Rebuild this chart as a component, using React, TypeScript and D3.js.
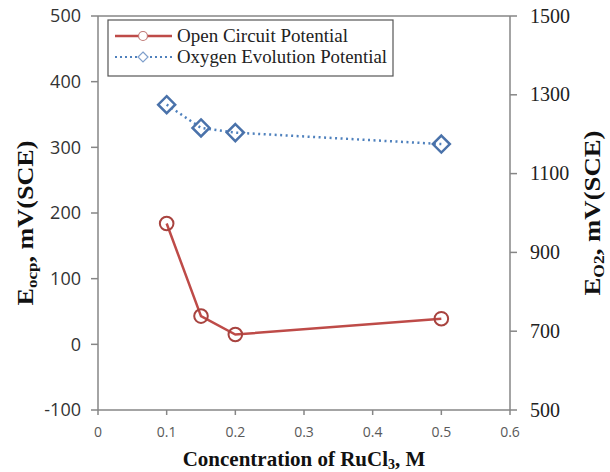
import React from "react";
import * as d3 from "d3";

const concentrations = [0.1, 0.15, 0.2, 0.5];
const ocpValues = [184, 43, 15, 39];
const oepValues = [1275, 1216, 1204, 1175];
const xTicks = [0, 0.1, 0.2, 0.3, 0.4, 0.5, 0.6];
const leftTicks = [-100, 0, 100, 200, 300, 400, 500];
const rightTicks = [500, 700, 900, 1100, 1300, 1500];
const legendLabels = ["Open Circuit Potential", "Oxygen Evolution Potential"];

const W = 610, H = 472;
const L = 98, R = 510, T = 16, B = 410;
const AX = "#868686";
const RED = "#BE4B48";
const BLUE = "#4F81BD";
const SERIF = "'Liberation Serif', 'DejaVu Serif', serif";
const SANS = "'Open Sans', sans-serif";

export default function App() {
  const x = d3.scaleLinear().domain([0, 0.6]).range([L, R]);
  const yL = d3.scaleLinear().domain([-100, 500]).range([B, T]);
  const yR = d3.scaleLinear().domain([500, 1500]).range([B, T]);

  const ocpPts: [number, number][] = concentrations.map((c, i) => [x(c), yL(ocpValues[i])]);
  const oepPts: [number, number][] = concentrations.map((c, i) => [x(c), yR(oepValues[i])]);
  const line = d3.line();

  const diamond = (cx: number, cy: number, s: number) =>
    `M${cx},${cy - s}L${cx + s},${cy}L${cx},${cy + s}L${cx - s},${cy}Z`;

  const serif = { fontFamily: SERIF };
  const sans = { fontFamily: SANS };

  return (
    <svg width={W} height={H} style={{ position: "absolute", left: 0, top: 0, background: "#fff" }}>
      {/* plot frame */}
      <line x1={L} x2={R} y1={T} y2={T} stroke={AX} strokeWidth={1.5} />
      <line x1={L} x2={L} y1={T} y2={B} stroke={AX} strokeWidth={1.5} />
      <line x1={R} x2={R} y1={T} y2={B} stroke={AX} strokeWidth={1.5} />
      <line x1={L} x2={R} y1={B} y2={B} stroke={AX} strokeWidth={1.5} />

      {/* left axis */}
      {leftTicks.map((t) => (
        <g key={"l" + t}>
          <line x1={L - 7} x2={L} y1={yL(t)} y2={yL(t)} stroke={AX} strokeWidth={1.5} />
          <text x={81} y={yL(t)} dy="0.36em" textAnchor="end" style={sans} fontSize={18} fill="#333">
            {t}
          </text>
        </g>
      ))}
      {/* right axis */}
      {rightTicks.map((t) => (
        <g key={"r" + t}>
          <line x1={R} x2={R + 7} y1={yR(t)} y2={yR(t)} stroke={AX} strokeWidth={1.5} />
          <text x={530} y={yR(t)} dy="0.33em" textAnchor="start" style={serif} fontSize={20} fill="#222">
            {t}
          </text>
        </g>
      ))}
      {/* x axis */}
      {xTicks.map((t) => (
        <g key={"x" + t}>
          <line x1={x(t)} x2={x(t)} y1={B} y2={B + 5} stroke={AX} strokeWidth={1.5} />
          <text x={x(t)} y={432} dy="0.36em" textAnchor="middle" style={sans} fontSize={14} fill="#595959">
            {t}
          </text>
        </g>
      ))}

      {/* axis titles */}
      <text
        transform={`translate(33,${(T + B) / 2 + 10}) rotate(-90)`}
        textAnchor="middle"
        style={serif}
        fontWeight="bold"
        fontSize={23}
        fill="#111"
        textLength={165}
        lengthAdjust="spacingAndGlyphs"
      >
        E<tspan fontSize={15} dy="4">ocp</tspan>
        <tspan dy="-4">, mV(SCE)</tspan>
      </text>
      <text
        transform={`translate(600,${(T + B) / 2}) rotate(-90)`}
        textAnchor="middle"
        style={serif}
        fontWeight="bold"
        fontSize={23}
        fill="#111"
        textLength={165}
        lengthAdjust="spacingAndGlyphs"
      >
        E<tspan fontSize={15} dy="4">O2</tspan>
        <tspan dy="-4">, mV(SCE)</tspan>
      </text>
      <text x={(L + R) / 2} y={466} textAnchor="middle" style={serif} fontWeight="bold" fontSize={21} fill="#111">
        Concentration of RuCl<tspan fontSize={14} dy="3">3</tspan>
        <tspan dy="-3">, M</tspan>
      </text>

      {/* series: OEP */}
      <path d={line(oepPts) || ""} fill="none" stroke={BLUE} strokeWidth={2.5} strokeDasharray="2 3.5" />
      {oepPts.map(([px, py], i) => (
        <path key={"d" + i} d={diamond(px, py, 8.5)} fill="none" stroke="#4A72AA" strokeWidth={2.5} />
      ))}
      {/* series: OCP */}
      <path d={line(ocpPts) || ""} fill="none" stroke={RED} strokeWidth={2.5} />
      {ocpPts.map(([px, py], i) => (
        <circle key={"c" + i} cx={px} cy={py} r={6.8} fill="none" stroke="#A8433F" strokeWidth={2} />
      ))}

      {/* legend */}
      <rect x={108} y={20} width={285} height={56} fill="#fff" stroke="#555" strokeWidth={1.2} />
      <line x1={115} x2={172} y1={36} y2={36} stroke={RED} strokeWidth={2.5} />
      <circle cx={143} cy={36} r={4.5} fill="#fff" stroke="#C07A77" strokeWidth={1.2} />
      <text x={177} y={36} dy="0.33em" style={serif} fontSize={19} fill="#222" textLength={171} lengthAdjust="spacingAndGlyphs">
        {legendLabels[0]}
      </text>
      <line x1={115} x2={172} y1={57} y2={57} stroke={BLUE} strokeWidth={2} strokeDasharray="2 3" />
      <path d={diamond(143, 57, 5)} fill="#fff" stroke="#7FA0CC" strokeWidth={1.2} />
      <text x={177} y={57} dy="0.33em" style={serif} fontSize={19} fill="#222" textLength={210} lengthAdjust="spacingAndGlyphs">
        {legendLabels[1]}
      </text>
    </svg>
  );
}
